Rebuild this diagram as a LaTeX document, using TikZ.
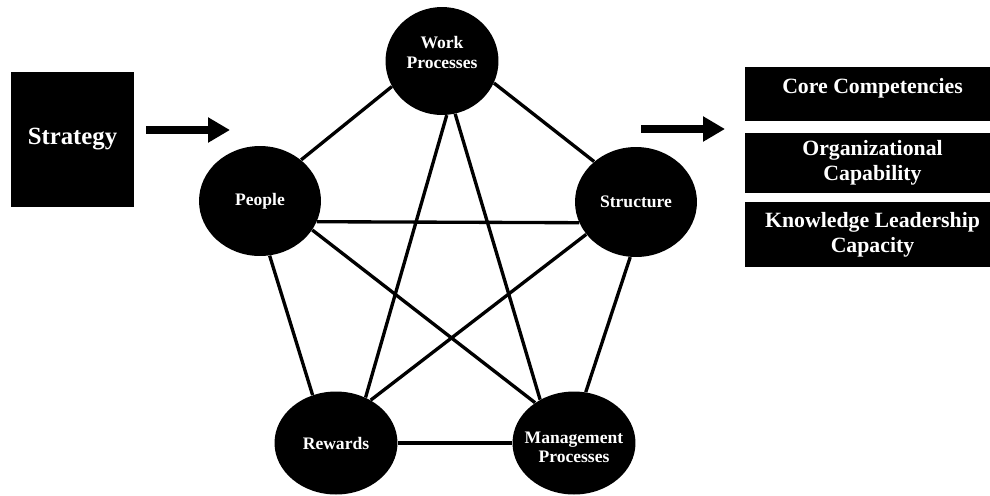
\documentclass[tikz,border=0pt]{standalone}
\usepackage{fontspec}
\setmainfont{Liberation Serif}
\usetikzlibrary{arrows.meta,shapes.geometric}

\begin{document}
\begin{tikzpicture}
      [x = 0.02cm, y = -0.02cm,
      factor/.style= {
         ellipse,
         fill = black,
         text = white,
         inner sep = -10pt,
         minimum width = 2.44cm,
         minimum height = 2.2cm,
         align = center,
         font = \bfseries\fontsize{10}{11.3}\selectfont
      },
      box/.style= {
         rectangle,
         fill = black,
         text = white,
         inner sep = 0pt,
         align = center,
         font = \bfseries\fontsize{12.4}{14.2}\selectfont
      },
      link/.style= {line width = 1.9pt},
      bigarrow/.style= {
         line width = 5.1pt,
         -{Triangle[length = 12.5pt, width = 13.6pt]}
      }]

      \useasboundingbox (0, 0) rectangle (990, 495);

      \node[box, minimum width = 2.46cm, minimum height = 2.7cm,
         font = \bfseries\fontsize{14.1}{17}\selectfont] (strategy) at (72.5, 139.5) {Strategy};

      \node[factor, minimum width = 2.26cm, minimum height = 2.16cm] (work) at (442, 61)
         {Work\\Processes\rule[-10pt]{0pt}{0pt}};
      \node[factor] (people) at (260, 201) {People};
      \node[factor] (structure) at (636, 202) {Structure};
      \node[factor, minimum width = 2.46cm, minimum height = 2.06cm] (rewards) at (336, 443) {Rewards};
      \node[factor, minimum width = 2.46cm, minimum height = 2.06cm] (mgmt) at (574, 443)
         {\rule{0pt}{11.4pt}Management\\Processes};

      \draw[link] (people.45) -- (work.207);
      \draw[link] (work.-23) -- (structure.136);
      \draw[link] (work.-85) -- (rewards.57);
      \draw[link] (work.-76) -- (mgmt.128);
      \draw[link] (people.-20) -- (structure.200);
      \draw[link] (people.-29) -- (mgmt.134);
      \draw[link] (people.-80) -- (rewards.116);
      \draw[link] (structure.213) -- (rewards.51);
      \draw[link] (structure.-96) -- (mgmt.77);
      \draw[link] (rewards.0) -- (mgmt.180);

      \coordinate (in start) at (146, 130);
      \coordinate (in end) at (230, 130);
      \coordinate (out start) at (641, 129);
      \coordinate (out end) at (725, 129);
      \draw[bigarrow] (in start) -- (in end);
      \draw[bigarrow] (out start) -- (out end);

      \node[box, minimum width = 5.1cm, minimum height = 1.08cm] (core) at (872.5, 94)
         {Core Competencies\rule[-9pt]{0pt}{0pt}};
      \node[box, minimum width = 5.1cm, minimum height = 1.2cm] (orgcap) at (872.5, 163)
         {Organizational\\Capability};
      \node[box, minimum width = 5.1cm, minimum height = 1.3cm] (knowledge) at (872.5, 234.5)
         {Knowledge Leadership\\Capacity};

   \end{tikzpicture}
\end{document}
